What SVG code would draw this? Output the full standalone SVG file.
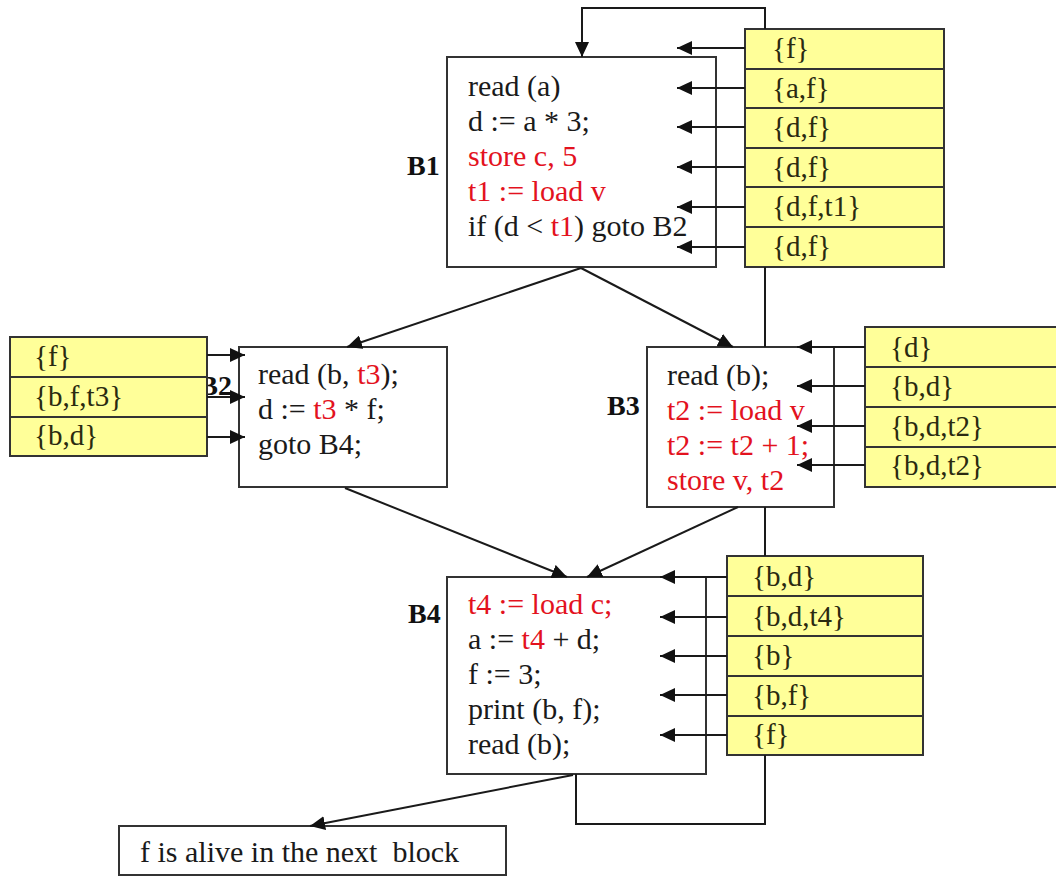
<svg xmlns="http://www.w3.org/2000/svg" width="1056" height="876" viewBox="0 0 1056 876">
  <style>
    .box { fill: #ffffff; stroke: #333333; stroke-width: 2; }
    .cell { fill: #ffff99; stroke: #333333; stroke-width: 2; }
    .code { font-family: "Liberation Serif", "Times New Roman", serif; font-size: 30px; fill: #1a1a1a; }
    .set { font-family: "Liberation Serif", "Times New Roman", serif; font-size: 29px; fill: #2a2a10; }
    .lbl { font-family: "Liberation Serif", "Times New Roman", serif; font-size: 28px; font-weight: bold; fill: #111111; }
    .red { fill: #e3121e; }
    .wire { fill: none; stroke: #1a1a1a; stroke-width: 2; }
  </style>
  <defs>
    <marker id="ah" viewBox="0 0 15 14" refX="15" refY="7" markerWidth="15" markerHeight="14" markerUnits="userSpaceOnUse" orient="auto">
      <path d="M0,0 L15,7 L0,14 z" fill="#111111"/>
    </marker>
  </defs>

  <rect width="1056" height="876" fill="#ffffff"/>

  <!-- Block B1 -->
  <g id="B1">
    <rect class="box" x="447" y="57" width="269" height="210"/>
    <text class="lbl" x="407" y="175">B1</text>
    <text class="code" x="468" y="96">read (a)</text>
    <text class="code" x="468" y="131">d := a * 3;</text>
    <text class="code red" x="468" y="166">store c, 5</text>
    <text class="code red" x="468" y="201">t1 := load v</text>
    <text class="code" x="468" y="236">if (d &lt; <tspan class="red">t1</tspan>) goto B2</text>
  </g>

  <!-- Live sets beside B1 -->
  <g id="B1-live">
    <rect class="cell" x="745" y="29" width="199" height="40"/>
    <rect class="cell" x="745" y="69" width="199" height="39"/>
    <rect class="cell" x="745" y="108" width="199" height="40"/>
    <rect class="cell" x="745" y="148" width="199" height="39"/>
    <rect class="cell" x="745" y="187" width="199" height="40"/>
    <rect class="cell" x="745" y="227" width="199" height="40"/>
    <text class="set" x="772" y="58">{f}</text>
    <text class="set" x="772" y="98">{a,f}</text>
    <text class="set" x="772" y="137">{d,f}</text>
    <text class="set" x="772" y="177">{d,f}</text>
    <text class="set" x="772" y="216">{d,f,t1}</text>
    <text class="set" x="772" y="256">{d,f}</text>
  </g>

  <!-- Block B2 -->
  <g id="B2">
    <rect class="box" x="239" y="347" width="208" height="140"/>
    <text class="lbl" x="232" y="395" text-anchor="end">B2</text>
    <text class="code" x="258" y="384">read (b, <tspan class="red">t3</tspan>);</text>
    <text class="code" x="258" y="419">d := <tspan class="red">t3</tspan> * f;</text>
    <text class="code" x="258" y="454">goto B4;</text>
  </g>

  <!-- Live sets beside B2 -->
  <g id="B2-live">
    <rect class="cell" x="10" y="337" width="197" height="40"/>
    <rect class="cell" x="10" y="377" width="197" height="40"/>
    <rect class="cell" x="10" y="417" width="197" height="39"/>
    <text class="set" x="34" y="366">{f}</text>
    <text class="set" x="34" y="406">{b,f,t3}</text>
    <text class="set" x="34" y="445">{b,d}</text>
  </g>

  <!-- Block B3 -->
  <g id="B3">
    <rect class="box" x="647" y="347" width="187" height="160"/>
    <text class="lbl" x="607" y="415">B3</text>
    <text class="code" x="667" y="385">read (b);</text>
    <text class="code red" x="667" y="420">t2 := load v</text>
    <text class="code red" x="667" y="455">t2 := t2 + 1;</text>
    <text class="code red" x="667" y="490">store v, t2</text>
  </g>

  <!-- Live sets beside B3 -->
  <g id="B3-live">
    <rect class="cell" x="865" y="327" width="195" height="40"/>
    <rect class="cell" x="865" y="367" width="195" height="40"/>
    <rect class="cell" x="865" y="407" width="195" height="40"/>
    <rect class="cell" x="865" y="447" width="195" height="40"/>
    <text class="set" x="890" y="357">{d}</text>
    <text class="set" x="890" y="396">{b,d}</text>
    <text class="set" x="890" y="436">{b,d,t2}</text>
    <text class="set" x="890" y="475">{b,d,t2}</text>
  </g>

  <!-- Block B4 -->
  <g id="B4">
    <rect class="box" x="447" y="577" width="259" height="197"/>
    <text class="lbl" x="408" y="623">B4</text>
    <text class="code red" x="468" y="614">t4 := load c;</text>
    <text class="code" x="468" y="649">a := <tspan class="red">t4</tspan> + d;</text>
    <text class="code" x="468" y="684">f := 3;</text>
    <text class="code" x="468" y="719">print (b, f);</text>
    <text class="code" x="468" y="754">read (b);</text>
  </g>

  <!-- Live sets beside B4 -->
  <g id="B4-live">
    <rect class="cell" x="727" y="556" width="196" height="40"/>
    <rect class="cell" x="727" y="596" width="196" height="40"/>
    <rect class="cell" x="727" y="636" width="196" height="40"/>
    <rect class="cell" x="727" y="676" width="196" height="40"/>
    <rect class="cell" x="727" y="716" width="196" height="39"/>
    <text class="set" x="752" y="586">{b,d}</text>
    <text class="set" x="752" y="626">{b,d,t4}</text>
    <text class="set" x="752" y="665">{b}</text>
    <text class="set" x="752" y="705">{b,f}</text>
    <text class="set" x="752" y="744">{f}</text>
  </g>

  <!-- Note box below B4 -->
  <g id="note">
    <rect class="box" x="119" y="826" width="387" height="49"/>
    <text class="code" x="140" y="862" xml:space="preserve">f is alive in the next  block</text>
  </g>

  <!-- Connectors -->
  <g id="connectors">
    <!-- back edge B4 -> B1, drawn in visible pieces -->
    <path class="wire" d="M576,774 V824 H765 V755"/>
    <path class="wire" d="M765,556 V507"/>
    <path class="wire" d="M765,347 V267"/>
    <path class="wire" d="M765,29 V8 H582 V57" marker-end="url(#ah)"/>

    <!-- control flow -->
    <path class="wire" d="M581,268 L347,347" marker-end="url(#ah)"/>
    <path class="wire" d="M581,268 L733,347" marker-end="url(#ah)"/>
    <path class="wire" d="M345,488 L567,577" marker-end="url(#ah)"/>
    <path class="wire" d="M738,507 L587,577" marker-end="url(#ah)"/>
    <path class="wire" d="M573,775 L310,826" marker-end="url(#ah)"/>

    <!-- live set arrows into B1 -->
    <path class="wire" d="M745,48 H677" marker-end="url(#ah)"/>
    <path class="wire" d="M745,88 H677" marker-end="url(#ah)"/>
    <path class="wire" d="M745,127 H677" marker-end="url(#ah)"/>
    <path class="wire" d="M745,167 H677" marker-end="url(#ah)"/>
    <path class="wire" d="M745,207 H677" marker-end="url(#ah)"/>
    <path class="wire" d="M745,247 H677" marker-end="url(#ah)"/>

    <!-- live set arrows into B2 -->
    <path class="wire" d="M207,355 H245" marker-end="url(#ah)"/>
    <path class="wire" d="M207,397 H245" marker-end="url(#ah)"/>
    <path class="wire" d="M207,437 H245" marker-end="url(#ah)"/>

    <!-- live set arrows into B3 -->
    <path class="wire" d="M865,347 H797" marker-end="url(#ah)"/>
    <path class="wire" d="M865,386 H797" marker-end="url(#ah)"/>
    <path class="wire" d="M865,426 H797" marker-end="url(#ah)"/>
    <path class="wire" d="M865,465 H797" marker-end="url(#ah)"/>

    <!-- live set arrows into B4 -->
    <path class="wire" d="M727,577 H660" marker-end="url(#ah)"/>
    <path class="wire" d="M727,617 H660" marker-end="url(#ah)"/>
    <path class="wire" d="M727,656 H660" marker-end="url(#ah)"/>
    <path class="wire" d="M727,695 H660" marker-end="url(#ah)"/>
    <path class="wire" d="M727,735 H660" marker-end="url(#ah)"/>
  </g>
</svg>
